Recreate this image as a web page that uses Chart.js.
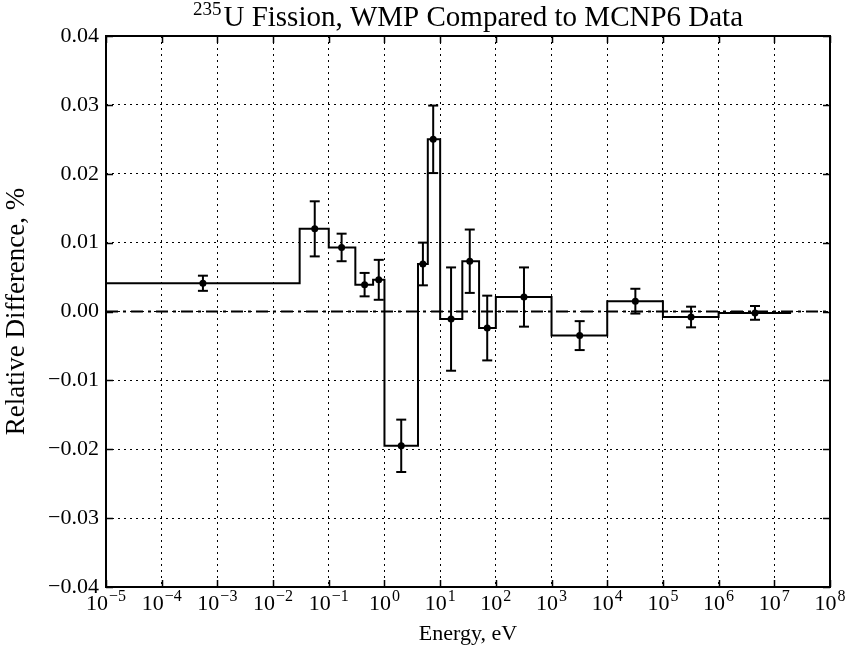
<!DOCTYPE html>
<html>
<head>
<meta charset="utf-8">
<script src="https://cdn.jsdelivr.net/npm/chart.js@4.4.0/dist/chart.umd.min.js"></script>
<style>
  html, body { margin: 0; padding: 0; background: #fff; }
</style>
</head>
<body>
<canvas id="chart" width="849" height="651"></canvas>
<script>
// histogram bin edges (eV) and relative difference per bin
const binEdges = [1e-5, 0.03, 0.1, 0.3, 0.625, 1, 4, 6, 10, 25, 50, 100, 1e3, 1e4, 1e5, 1e6, 2e7];
const binValues = [0.0041, 0.0120, 0.0093, 0.0039, 0.0046, -0.0195, 0.0069, 0.0250, -0.0011, 0.0073, -0.0024, 0.0021, -0.0035, 0.0015, -0.0008, -0.0002];
// energies where the markers sit and the 1-sigma error per bin
const pointEnergy = [5.5e-4, 0.056, 0.17, 0.44, 0.79, 2.0, 4.9, 7.5, 15.7, 34, 70, 320, 3200, 3.2e4, 3.2e5, 4.5e6];
const pointErrors = [0.0011, 0.0040, 0.0020, 0.0017, 0.0029, 0.0038, 0.0031, 0.0049, 0.0075, 0.0046, 0.0047, 0.0043, 0.0021, 0.0018, 0.0015, 0.0010];
const xTickPowers = [-5, -4, -3, -2, -1, 0, 1, 2, 3, 4, 5, 6, 7, 8];
const yMin = -0.04, yMax = 0.04, yStep = 0.01;

const SERIF = "'Liberation Serif', 'DejaVu Serif', serif";

// each edge carries the value of the bin that starts there; last edge closes the last bin
const stepData = binEdges.map((e, i) => ({ x: e, y: binValues[Math.min(i, binValues.length - 1)] }));
const pointData = pointEnergy.map((e, i) => ({ x: e, y: binValues[i] }));
const errData = [];
pointEnergy.forEach((e, i) => {
    errData.push({ x: e, y: binValues[i] + pointErrors[i] });
    errData.push({ x: e, y: binValues[i] - pointErrors[i] });
    errData.push({ x: e, y: null });
});

// frame, inward ticks, x tick labels with superscripts, title
const decorations = {
    id: 'decorations',
    afterDraw(chart) {
        const { ctx, chartArea: a, scales: { x, y } } = chart;
        ctx.save();
        ctx.strokeStyle = '#000';
        ctx.lineWidth = 1.5;
        ctx.beginPath();
        xTickPowers.forEach(p => {
            const px = Math.round(x.getPixelForValue(Math.pow(10, p))) + 0.5;
            ctx.moveTo(px, a.bottom); ctx.lineTo(px, a.bottom - 7);
            ctx.moveTo(px, a.top); ctx.lineTo(px, a.top + 7);
        });
        y.ticks.forEach(t => {
            const py = Math.round(y.getPixelForValue(t.value)) + 0.5;
            ctx.moveTo(a.left, py); ctx.lineTo(a.left + 7, py);
            ctx.moveTo(a.right, py); ctx.lineTo(a.right - 7, py);
        });
        ctx.stroke();

        ctx.lineWidth = 2;
        ctx.strokeRect(a.left, a.top, a.right - a.left, a.bottom - a.top);

        // x tick labels: 10^p
        ctx.fillStyle = '#000';
        ctx.textBaseline = 'alphabetic';
        ctx.textAlign = 'left';
        xTickPowers.forEach(p => {
            const px = x.getPixelForValue(Math.pow(10, p));
            const exp = p < 0 ? '\u2212' + Math.abs(p) : String(p);
            ctx.font = '22px ' + SERIF;
            const wb = ctx.measureText('10').width;
            ctx.font = '16px ' + SERIF;
            const we = ctx.measureText(exp).width;
            const x0 = px - (wb + we + 1) / 2;
            ctx.font = '22px ' + SERIF;
            ctx.fillText('10', x0, a.bottom + 23);
            ctx.font = '16px ' + SERIF;
            ctx.fillText(exp, x0 + wb + 1, a.bottom + 14);
        });

        // title with superscript mass number
        const sup = '235';
        const main = 'U Fission, WMP Compared to MCNP6 Data';
        ctx.font = '19px ' + SERIF;
        const ws = ctx.measureText(sup).width;
        ctx.font = '29px ' + SERIF;
        const wm = ctx.measureText(main).width;
        const cx = (a.left + a.right) / 2;
        const tx = cx - (ws + wm + 2) / 2;
        ctx.font = '19px ' + SERIF;
        ctx.fillText(sup, tx, a.top - 21);
        ctx.font = '29px ' + SERIF;
        ctx.fillText(main, tx + ws + 2, a.top - 10);
        ctx.restore();
    }
};

new Chart(document.getElementById('chart'), {
    type: 'line',
    data: {
        datasets: [
            {
                label: 'zero',
                data: [{ x: binEdges[0], y: 0 }, { x: Math.pow(10, xTickPowers[xTickPowers.length - 1]), y: 0 }],
                borderColor: '#000',
                borderWidth: 2,
                borderDash: [12, 5, 3, 5],
                pointRadius: 0
            },
            {
                label: 'WMP vs MCNP6',
                data: stepData,
                stepped: 'before',
                borderColor: '#000',
                borderWidth: 2,
                pointRadius: 0
            },
            {
                label: 'error',
                data: errData,
                borderColor: '#000',
                borderWidth: 2,
                spanGaps: false,
                pointStyle: 'line',
                pointRadius: 5,
                pointBorderWidth: 2,
                pointBorderColor: '#000'
            },
            {
                label: 'points',
                data: pointData,
                showLine: false,
                pointStyle: 'circle',
                pointRadius: 3.5,
                pointBackgroundColor: '#000',
                pointBorderColor: '#000',
                pointBorderWidth: 0
            }
        ]
    },
    options: {
        responsive: false,
        animation: false,
        devicePixelRatio: 1,
        layout: { padding: { top: 36, right: 19, left: 0, bottom: 0 } },
        plugins: {
            legend: { display: false },
            tooltip: { enabled: false },
            title: { display: false }
        },
        scales: {
            x: {
                type: 'logarithmic',
                min: Math.pow(10, xTickPowers[0]),
                max: Math.pow(10, xTickPowers[xTickPowers.length - 1]),
                afterBuildTicks: (scale) => {
                    scale.ticks = xTickPowers.map(p => ({ value: Math.pow(10, p) }));
                },
                afterFit: (scale) => { scale.height = 64; },
                ticks: { display: false },
                grid: { color: '#000', lineWidth: 1, drawTicks: false },
                border: { display: false, dash: [2, 4] },
                title: {
                    display: true,
                    text: 'Energy, eV',
                    color: '#000',
                    font: { family: SERIF, size: 22 },
                    padding: { top: 0, bottom: 4 }
                }
            },
            y: {
                min: yMin,
                max: yMax,
                afterFit: (scale) => { scale.width = 106; },
                ticks: {
                    stepSize: yStep,
                    color: '#000',
                    padding: 7,
                    font: { family: SERIF, size: 22 },
                    callback: (v) => {
                        const r = Math.round(v * 100) / 100;
                        return (r < 0 ? '\u2212' : '') + Math.abs(r).toFixed(2);
                    }
                },
                grid: { color: '#000', lineWidth: 1, drawTicks: false },
                border: { display: false, dash: [2, 4] },
                title: {
                    display: true,
                    text: 'Relative Difference, %',
                    color: '#000',
                    font: { family: SERIF, size: 27 },
                    padding: { top: 1, bottom: 0 }
                }
            }
        }
    },
    plugins: [decorations]
});
</script>
</body>
</html>
